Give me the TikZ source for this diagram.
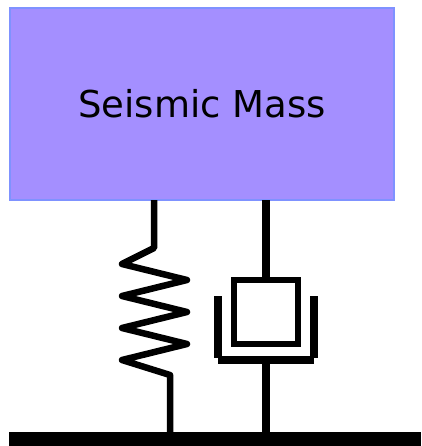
\documentclass[tikz,border=0pt]{standalone}
\usepackage{fontspec}
\usepackage{xcolor}
\usepackage{tikz}
\usetikzlibrary{calc}
\setmainfont{DejaVu Sans}
\definecolor{massfill}{HTML}{A48FFF}
\definecolor{massline}{HTML}{7F92FF}

\begin{document}
\begin{tikzpicture}[
  x=1pt, y=-1pt,
  mass/.style={draw=massline, fill=massfill, line width=2pt, minimum width=384pt, minimum height=192pt, inner sep=0pt, outer sep=0pt, font=\fontsize{37}{44}\selectfont},
  floor/.style={fill=black, minimum width=412pt, minimum height=14pt, inner sep=0pt, outer sep=0pt},
  piston/.style={draw=black, line width=6.5pt, minimum width=64pt, minimum height=64pt, inner sep=0pt, outer sep=3pt},
  wire/.style={draw=black, line width=6.5pt, line join=round},
  rod/.style={draw=black, line width=8pt},
  cup/.style={draw=black, line width=8pt}
]
  \useasboundingbox (0,0) rectangle (421,446);

  % Mass and floor
  \node[mass] (m_box) at (202,104) {\raisebox{-1pt}{Seismic Mass}};
  \node[floor] (m_floor) at (215,439) {};

  % Spring (Left)
  \coordinate (s_top) at (154,248);
  \coordinate (s_bot) at (170,375);
  \draw[wire] (m_box.south -| s_top) -- (s_top) -- (122,264) -- (187,280) -- (122,296) -- (187,312) -- (122,328) -- (187,344) -- (122,360) -- (s_bot) -- (m_floor.north -| s_bot);

  % Damper (Right)
  \node[piston] (d_piston) at (266,312) {};
  \coordinate (d_left) at (218,296);
  \coordinate (d_right) at (314,296);
  \coordinate (d_base) at (266,360);
  \draw[cup] (d_left) -- (218,358);
  \draw[cup] (d_right) -- (314,358);
  \draw[cup] (d_left |- d_base) -- (d_right |- d_base);
  \draw[rod] (m_box.south -| d_piston) -- (d_piston.north);
  \draw[rod] (d_base) -- (m_floor.north -| d_base);

\end{tikzpicture}
\end{document}
